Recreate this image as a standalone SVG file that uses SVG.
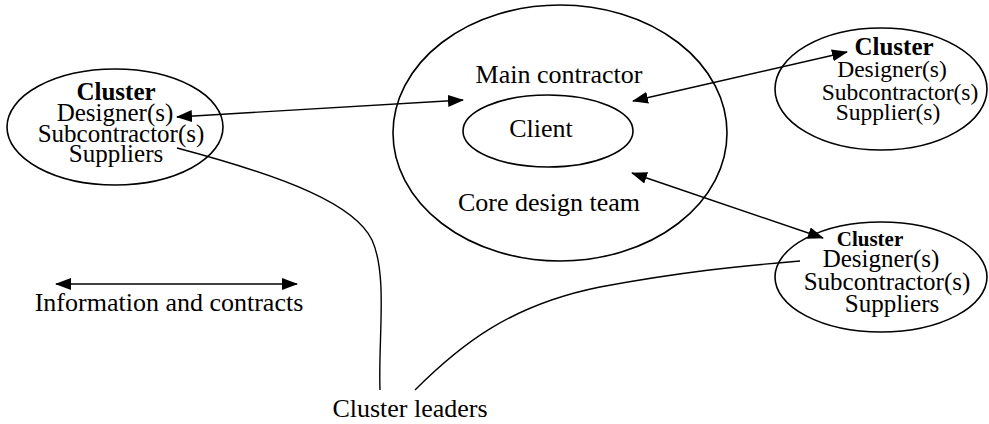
<svg xmlns="http://www.w3.org/2000/svg" width="989" height="424" viewBox="0 0 989 424">
  <defs>
    <marker id="head" viewBox="0 0 16 12" refX="15" refY="6" markerWidth="16" markerHeight="12" markerUnits="userSpaceOnUse" orient="auto-start-reverse">
      <path d="M0,0 L16,6 L0,12 Z" fill="#000"/>
    </marker>
    <style>
      .shape { fill: none; stroke: #000; stroke-width: 1.6; }
      .link { fill: none; stroke: #000; stroke-width: 1.4; }
      .t { font-family: "Liberation Serif", "Times New Roman", serif; font-size: 26px; fill: #000; text-anchor: middle; }
      .c { font-size: 25px; }
      .s { font-size: 23.5px; }
      .b { font-weight: bold; }
    </style>
  </defs>
  <rect width="989" height="424" fill="#fff"/>

  <!-- core team: main contractor around the client -->
  <g id="core">
    <ellipse class="shape" cx="560" cy="133" rx="167" ry="128"/>
    <text class="t" x="559" y="83">Main contractor</text>
    <text class="t" x="549" y="211">Core design team</text>
  </g>
  <g id="client">
    <ellipse class="shape" cx="548" cy="131" rx="85" ry="36"/>
    <text class="t" x="541" y="137">Client</text>
  </g>

  <!-- supply clusters -->
  <g id="cluster-left">
    <ellipse class="shape" cx="115" cy="127" rx="108" ry="58"/>
    <text class="t c b" x="116" y="100">Cluster</text>
    <text class="t c" x="115" y="121">Designer(s)</text>
    <text class="t c" x="121" y="142">Subcontractor(s)</text>
    <text class="t c" x="116" y="162">Suppliers</text>
  </g>
  <g id="cluster-top-right">
    <ellipse class="shape" cx="881" cy="89" rx="106" ry="61"/>
    <text class="t c b" x="894" y="55">Cluster</text>
    <text class="t s" x="892" y="77">Designer(s)</text>
    <text class="t s" x="900" y="100">Subcontractor(s)</text>
    <text class="t s" x="888" y="120">Supplier(s)</text>
  </g>
  <g id="cluster-bottom-right">
    <ellipse class="shape" cx="881" cy="277" rx="106" ry="55"/>
    <text class="t b" x="870" y="246" style="font-size:21px">Cluster</text>
    <text class="t c" x="881" y="267">Designer(s)</text>
    <text class="t c" x="887" y="290">Subcontractor(s)</text>
    <text class="t c" x="892" y="312">Suppliers</text>
  </g>

  <!-- legend -->
  <g id="legend">
    <line class="link" x1="56" y1="284" x2="297" y2="284" marker-start="url(#head)" marker-end="url(#head)"/>
    <text class="t" x="169" y="311">Information and contracts</text>
  </g>

  <g id="leaders-label">
    <text class="t" x="410" y="417">Cluster leaders</text>
  </g>

  <!-- connectors -->
  <g id="connectors">
    <line class="link" x1="177" y1="117" x2="463" y2="100" marker-start="url(#head)" marker-end="url(#head)"/>
    <line class="link" x1="633" y1="101" x2="847" y2="52" marker-start="url(#head)" marker-end="url(#head)"/>
    <line class="link" x1="632" y1="173" x2="823" y2="238" marker-start="url(#head)" marker-end="url(#head)"/>
    <path class="link" d="M177,148 C290,178 355,205 372,240 C388,275 378,340 380,390"/>
    <path class="link" d="M415,390 C460,345 510,305 600,287 C680,272 740,266 800,261"/>
  </g>
</svg>
